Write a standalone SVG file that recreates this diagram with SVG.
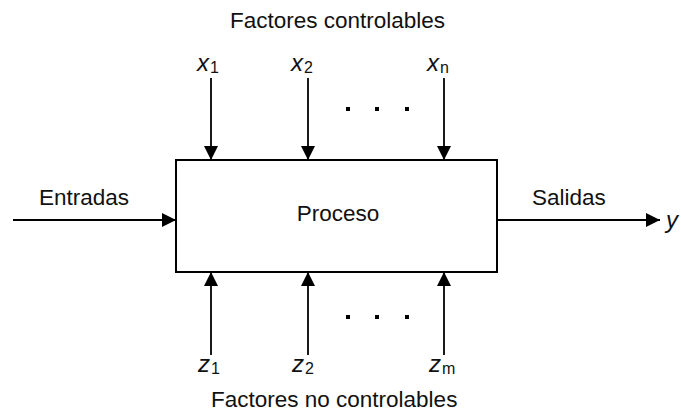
<svg xmlns="http://www.w3.org/2000/svg" width="681" height="416" viewBox="0 0 681 416">
  <defs>
    <marker id="ah" markerUnits="userSpaceOnUse" markerWidth="16" markerHeight="16" viewBox="0 0 16 16" refX="15" refY="8" orient="auto">
      <path d="M1,1 L15,8 L1,15 Z" fill="#000"/>
    </marker>
    <style>
      text { font-family: "Liberation Sans", Arial, sans-serif; fill: #111; }
      .lbl { font-size: 22.5px; }
      .var { font-size: 24px; font-style: italic; }
      .sub { font-size: 16px; font-style: normal; }
      .conn line { stroke: #000; stroke-width: 1.8; fill: none; marker-end: url(#ah); }
      .dot { fill: #000; }
    </style>
  </defs>
  <rect width="681" height="416" fill="#fff"/>

  <g id="titulo-controlables">
    <text class="lbl" x="230" y="28">Factores controlables</text>
  </g>
  <g id="titulo-no-controlables">
    <text class="lbl" x="211" y="407">Factores no controlables</text>
  </g>

  <g id="proceso">
    <rect x="176" y="160" width="321" height="112" fill="#fff" stroke="#000" stroke-width="2"/>
    <text class="lbl" x="338" y="221" text-anchor="middle">Proceso</text>
  </g>

  <g id="x1"><text class="var" x="197" y="71">x<tspan class="sub" dx="1" dy="2">1</tspan></text></g>
  <g id="x2"><text class="var" x="291" y="71">x<tspan class="sub" dx="1" dy="2">2</tspan></text></g>
  <g id="xn"><text class="var" x="427" y="71">x<tspan class="sub" dx="1" dy="2">n</tspan></text></g>

  <g id="z1"><text class="var" x="198" y="372">z<tspan class="sub" dx="1" dy="2">1</tspan></text></g>
  <g id="z2"><text class="var" x="292" y="372">z<tspan class="sub" dx="1" dy="2">2</tspan></text></g>
  <g id="zm"><text class="var" x="429" y="372">z<tspan class="sub" dx="1" dy="2">m</tspan></text></g>

  <g id="entradas"><text class="lbl" x="39" y="205">Entradas</text></g>
  <g id="salidas"><text class="lbl" x="532" y="205">Salidas</text></g>
  <g id="y"><text class="var" x="666" y="228">y</text></g>

  <g id="puntos-superiores">
    <rect class="dot" x="346" y="107" width="4" height="4"/>
    <rect class="dot" x="375" y="107" width="4" height="4"/>
    <rect class="dot" x="405" y="107" width="4" height="4"/>
  </g>
  <g id="puntos-inferiores">
    <rect class="dot" x="346" y="315" width="4" height="4"/>
    <rect class="dot" x="375" y="315" width="4" height="4"/>
    <rect class="dot" x="405" y="315" width="4" height="4"/>
  </g>

  <g id="conectores" class="conn">
    <line x1="211" y1="78" x2="211" y2="160"/>
    <line x1="308" y1="78" x2="308" y2="160"/>
    <line x1="444" y1="78" x2="444" y2="160"/>
    <line x1="211" y1="355" x2="211" y2="272"/>
    <line x1="308" y1="355" x2="308" y2="272"/>
    <line x1="444" y1="355" x2="444" y2="272"/>
    <line x1="13" y1="220" x2="176" y2="220"/>
    <line x1="497" y1="220" x2="660" y2="220"/>
  </g>
</svg>
